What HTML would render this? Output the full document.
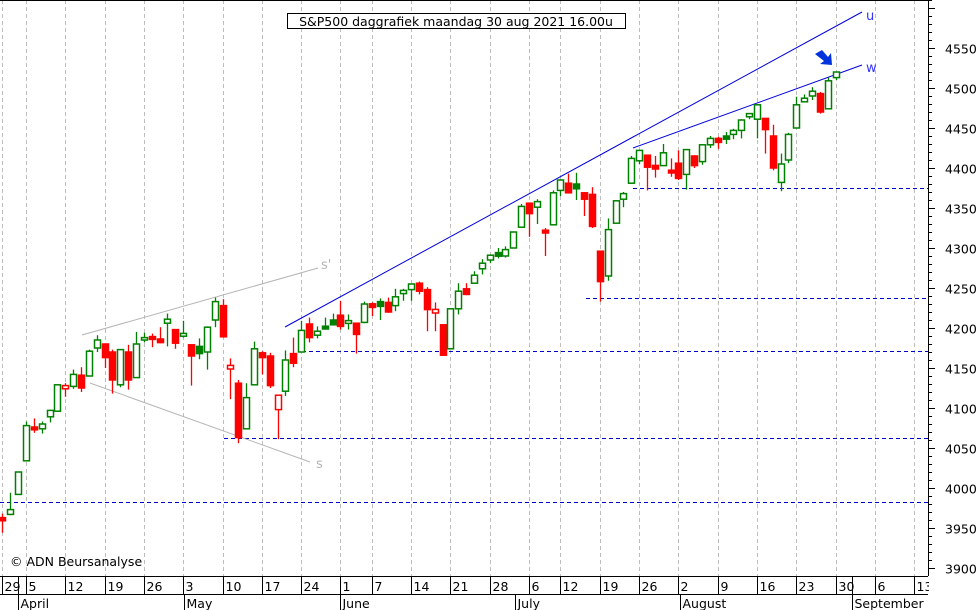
<!DOCTYPE html>
<html><head><meta charset="utf-8"><style>
html,body{margin:0;padding:0;background:#fff;}
svg{display:block;font-family:"DejaVu Sans","Liberation Sans",sans-serif;}
</style></head><body>
<svg id="c" width="980" height="610" viewBox="0 0 980 610" xmlns="http://www.w3.org/2000/svg"></svg>
<script>
var d=[
[3963,3968,3944,3959],[3967,3994,3966,3973],[3992,4020,3992,4020],
[4034,4083,4034,4078],[4075,4087,4069,4074],[4074,4083,4068,4080],[4089,4098,4082,4097],[4096,4129,4095,4129],
[4124,4131,4114,4128],[4127,4148,4124,4142],[4141,4151,4120,4125],[4140,4173,4140,4171],[4175,4191,4170,4185],
[4180,4180,4150,4163],[4170,4173,4118,4135],[4129,4173,4126,4173],[4170,4179,4123,4135],[4138,4195,4138,4180],
[4185,4194,4182,4188],[4188,4193,4176,4187],[4185,4201,4181,4183],[4206,4218,4177,4211],[4198,4198,4174,4181],
[4191,4209,4188,4192],[4179,4179,4128,4165],[4177,4187,4161,4168],[4170,4202,4148,4201],[4210,4238,4201,4233],
[4228,4236,4188,4189],[4150,4162,4111,4152],[4131,4135,4056,4063],[4074,4131,4074,4113],[4129,4183,4129,4174],
[4169,4171,4142,4163],[4165,4169,4125,4128],[4098,4116,4061,4116],[4121,4172,4115,4160],[4168,4188,4151,4156],
[4170,4209,4170,4197],[4205,4213,4182,4188],[4191,4202,4187,4196],[4201,4213,4198,4200],[4210,4218,4203,4204],
[4216,4234,4198,4202],[4207,4217,4198,4208],[4206,4206,4168,4192],[4207,4233,4206,4230],
[4229,4232,4215,4227],[4233,4237,4210,4227],[4232,4238,4219,4220],[4228,4249,4221,4239],[4243,4249,4234,4247],
[4248,4255,4234,4255],[4256,4258,4242,4246],[4248,4251,4196,4223],[4220,4232,4196,4222],[4204,4204,4165,4166],
[4174,4224,4174,4224],[4224,4256,4217,4246],[4249,4256,4241,4242],[4256,4271,4256,4266],[4274,4286,4267,4281],
[4285,4292,4281,4291],[4293,4300,4287,4291],[4290,4302,4288,4298],[4300,4320,4300,4320],[4326,4355,4326,4352],
[4356,4357,4314,4343],[4351,4361,4330,4358],[4321,4325,4290,4320],[4329,4372,4329,4369],
[4372,4386,4365,4385],[4381,4393,4368,4369],[4380,4394,4360,4374],[4369,4370,4340,4361],[4367,4376,4325,4327],
[4296,4296,4233,4258],[4265,4337,4259,4323],[4331,4359,4331,4359],[4361,4370,4351,4368],[4381,4415,4381,4412],
[4409,4422,4405,4422],[4416,4416,4372,4401],[4402,4415,4388,4400],[4403,4430,4403,4419],[4396,4412,4389,4395],
[4406,4422,4385,4387],[4392,4423,4373,4423],[4415,4416,4400,4403],[4408,4429,4404,4429],[4429,4440,4425,4437],
[4437,4439,4424,4432],[4440,4445,4430,4436],[4442,4449,4436,4447],[4447,4461,4437,4460],[4464,4468,4461,4468],
[4461,4480,4437,4479],[4462,4462,4418,4448],[4440,4454,4397,4400],[4382,4418,4371,4405],[4410,4444,4406,4442],
[4450,4489,4450,4479],[4484,4492,4482,4486],[4490,4501,4485,4496],[4493,4495,4468,4470],[4474,4513,4474,4509],
[4513,4520,4510,4520]];
function Y(v){return 88+(4500-v)*0.8;}
function X(i){return 26+7.86*i;}
var s='';
// grid
var gi=[-3,0,5,10,15,20,25,30,35,40,44,49,54,59,64,68,73,78,83,88,93,98,103,108,113];
gi.forEach(function(i){var x=Math.round(X(i))+0.5;s+='<line x1="'+x+'" y1="0" x2="'+x+'" y2="576" stroke="#bdbdbd" stroke-dasharray="4,3"/>';});
// horizontal dashed
[[0,3982],[224,4063],[302,4171],[586,4237],[633,4375]].forEach(function(h){var y=Math.round(Y(h[1]))+0.5;s+='<line x1="'+h[0]+'" y1="'+y+'" x2="928" y2="'+y+'" stroke="#0000cc" stroke-dasharray="4,3"/>';});
// trend lines
s+='<line x1="285" y1="327" x2="862" y2="12" stroke="#0000dd"/>';
s+='<line x1="633" y1="148" x2="862" y2="65" stroke="#0000dd"/>';
s+='<line x1="82" y1="335" x2="318" y2="268" stroke="#b4b4b4"/>';
s+='<line x1="90" y1="383" x2="310" y2="462" stroke="#b4b4b4"/>';
s+='<text x="866" y="20" font-size="13" fill="#3333ff">u</text><text x="866" y="72" font-size="13" fill="#3333ff">w</text>';
s+='<text x="321" y="269" font-size="13" fill="#b4b4b4">s\'</text><text x="316" y="468" font-size="13" fill="#b4b4b4">s</text>';
// candles
for(var k=0;k<d.length;k++){var i=k-3,o=d[k][0],h=d[k][1],l=d[k][2],c=d[k][3];var pc=k>0?d[k-1][3]:o;
 var col=c>=pc?'#008000':'#ff0000';var x=X(i);var cx=Math.round(x)+0.5;
 s+='<line x1="'+cx+'" y1="'+Y(h)+'" x2="'+cx+'" y2="'+Y(l)+'" stroke="'+col+'" stroke-width="1.3"/>';
 var t=Y(Math.max(o,c)),b=Y(Math.min(o,c));if(b-t<2){t-=1;b+=1;}
 var fill=c<o?col:'#fff';
 s+='<rect x="'+(cx-3)+'" y="'+t+'" width="6" height="'+(b-t)+'" fill="'+fill+'" stroke="'+col+'" stroke-width="1.5"/>';}
// arrow
s+='<path d="M815,54 L822,50 L828,57 L831,53 L832,65 L820,64 L824,61 Z" fill="#0033dd"/>';
// title
s+='<rect x="287.5" y="13.5" width="338" height="15" fill="#fff" stroke="#000"/>';
s+='<text x="456" y="26" font-size="12.5" text-anchor="middle" fill="#000">S&amp;P500 daggrafiek maandag 30 aug 2021 16.00u</text>';
s+='<text x="10" y="566" font-size="12.5" fill="#000">© ADN Beursanalyse</text>';
// right axis
s+='<line x1="928.5" y1="0" x2="928.5" y2="576" stroke="#000"/><line x1="0" y1="0.5" x2="928" y2="0.5" stroke="#000"/>';
for(var v=3890;v<=4610;v+=10){var y=Math.round(Y(v))+0.5;if(y<0||y>576)continue;var L=(v%50==0)?6:3;s+='<line x1="929" y1="'+y+'" x2="'+(929+L)+'" y2="'+y+'" stroke="#000"/>';
 if(v%50==0&&v<=4550)s+='<text x="945" y="'+(y+5)+'" font-size="12.5" fill="#000">'+v+'</text>';}
// x axis
s+='<line x1="0" y1="576.5" x2="928" y2="576.5" stroke="#000"/><line x1="0" y1="594.5" x2="928" y2="594.5" stroke="#000"/>';
var lab=[[-3,'29'],[0,'5'],[5,'12'],[10,'19'],[15,'26'],[20,'3'],[25,'10'],[30,'17'],[35,'24'],[40,'1'],[44,'7'],[49,'14'],[54,'21'],[59,'28'],[64,'6'],[68,'12'],[73,'19'],[78,'26'],[83,'2'],[88,'9'],[93,'16'],[98,'23'],[103,'30'],[108,'6'],[113,'13']];
lab.forEach(function(a){var x=Math.round(X(a[0]))+0.5;s+='<line x1="'+x+'" y1="576" x2="'+x+'" y2="594" stroke="#000"/><text x="'+(x+2)+'" y="591" font-size="12.5" fill="#000">'+a[1]+'</text>';});
s+='<line x1="18.5" y1="576" x2="18.5" y2="610" stroke="#000"/>';
s+='<line x1="852.5" y1="576" x2="852.5" y2="610" stroke="#000"/>';
[[18,'April'],[184,'May'],[340,'June'],[515,'July'],[680,'August'],[852,'September']].forEach(function(m){var x=m[0]+0.5;s+='<line x1="'+x+'" y1="594" x2="'+x+'" y2="610" stroke="#000"/><text x="'+(x+2)+'" y="608" font-size="12.5" fill="#000">'+m[1]+'</text>';});
s+='<rect x="929" y="577" width="51" height="33" fill="#fff"/>';
document.getElementById('c').innerHTML=s;
</script>
</body></html>
